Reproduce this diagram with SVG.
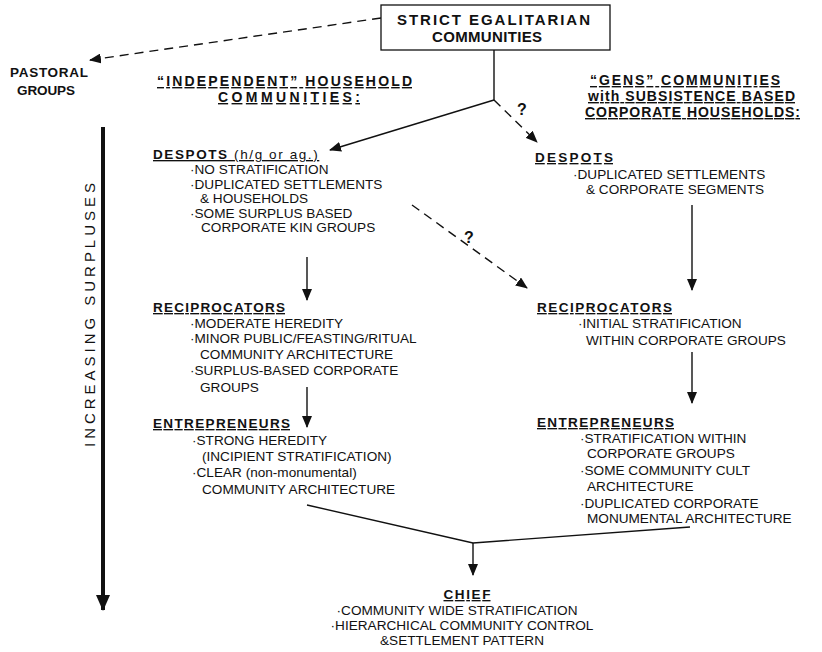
<svg xmlns="http://www.w3.org/2000/svg" width="822" height="652" viewBox="0 0 822 652">
<style>
text{font-family:"Liberation Sans",Arial,sans-serif;fill:#111}
.h{font-weight:bold;font-size:14px;text-decoration:underline}
.s{font-weight:bold;font-size:13.5px;text-decoration:underline}
.b{font-size:13.6px}
.ln{stroke:#111;stroke-width:1.4;fill:none}
.ds{stroke:#111;stroke-width:1.4;fill:none;stroke-dasharray:9,6}
</style>
<defs>
<marker id="ah" markerUnits="userSpaceOnUse" markerWidth="12" markerHeight="10" refX="11" refY="5" orient="auto"><path d="M0,0 L12,5 L0,10 z" fill="#111"/></marker>
<marker id="big" markerUnits="userSpaceOnUse" markerWidth="16" markerHeight="14" refX="15" refY="7" orient="auto"><path d="M0,0 L16,7 L0,14 z" fill="#111"/></marker>
</defs>
<rect width="822" height="652" fill="#fff"/>

<g id="top">
<rect x="381" y="5" width="229" height="45" fill="#fff" stroke="#111" stroke-width="1.3"/>
<text x="397" y="25" font-weight="bold" font-size="15" textLength="193" lengthAdjust="spacing">STRICT EGALITARIAN</text>
<text x="432" y="42" font-weight="bold" font-size="15" textLength="110" lengthAdjust="spacing">COMMUNITIES</text>
</g>

<g id="pastoral">
<text x="10" y="77" font-weight="bold" font-size="13.5" textLength="78" lengthAdjust="spacing">PASTORAL</text>
<text x="17" y="95" font-weight="bold" font-size="13.5" textLength="58" lengthAdjust="spacing">GROUPS</text>
</g>

<g id="head-left">
<text class="h" x="157" y="86" textLength="255" lengthAdjust="spacing">“INDEPENDENT”  HOUSEHOLD</text>
<text class="h" x="218" y="102" textLength="142" lengthAdjust="spacing">COMMUNITIES:</text>
</g>

<g id="head-right">
<text class="h" x="590" y="85" textLength="190" lengthAdjust="spacing">“GENS”  COMMUNITIES</text>
<text class="h" x="588" y="101" textLength="207" lengthAdjust="spacing">with SUBSISTENCE BASED</text>
<text class="h" x="585" y="117" textLength="215" lengthAdjust="spacing">CORPORATE  HOUSEHOLDS:</text>
</g>

<g id="axis">
<text transform="translate(95,315) rotate(-90)" x="-132" y="0" font-size="15" textLength="264" lengthAdjust="spacing">INCREASING SURPLUSES</text>
</g>

<g id="despots-left">
<text class="s" x="153" y="159" letter-spacing="1.6">DESPOTS <tspan font-weight="normal">(h/g or ag.)</tspan></text>
<text class="b" x="190" y="174">·NO STRATIFICATION</text>
<text class="b" x="190" y="188.5">·DUPLICATED SETTLEMENTS</text>
<text class="b" x="200" y="203">&amp; HOUSEHOLDS</text>
<text class="b" x="190" y="217.5">·SOME SURPLUS BASED</text>
<text class="b" x="201" y="232">CORPORATE KIN GROUPS</text>
</g>

<g id="despots-right">
<text class="s" x="535" y="162" textLength="78" lengthAdjust="spacing">DESPOTS</text>
<text class="b" x="573" y="179">·DUPLICATED SETTLEMENTS</text>
<text class="b" x="586" y="194">&amp; CORPORATE SEGMENTS</text>
</g>

<g id="recip-left">
<text class="s" x="153" y="312" textLength="132" lengthAdjust="spacing">RECIPROCATORS</text>
<text class="b" x="190" y="327.5">·MODERATE HEREDITY</text>
<text class="b" x="190" y="342.5">·MINOR PUBLIC/FEASTING/RITUAL</text>
<text class="b" x="200" y="359">COMMUNITY ARCHITECTURE</text>
<text class="b" x="190" y="375">·SURPLUS-BASED CORPORATE</text>
<text class="b" x="200" y="391.5">GROUPS</text>
</g>

<g id="recip-right">
<text class="s" x="537" y="312" textLength="135" lengthAdjust="spacing">RECIPROCATORS</text>
<text class="b" x="578" y="327.5">·INITIAL STRATIFICATION</text>
<text class="b" x="586" y="344.5">WITHIN CORPORATE GROUPS</text>
</g>

<g id="entre-left">
<text class="s" x="153" y="428" textLength="137" lengthAdjust="spacing">ENTREPRENEURS</text>
<text class="b" x="192" y="444.5">·STRONG HEREDITY</text>
<text class="b" x="202" y="461">(INCIPIENT STRATIFICATION)</text>
<text class="b" x="192" y="476.5">·CLEAR (non-monumental)</text>
<text class="b" x="202" y="494">COMMUNITY ARCHITECTURE</text>
</g>

<g id="entre-right">
<text class="s" x="537" y="427" textLength="137" lengthAdjust="spacing">ENTREPRENEURS</text>
<text class="b" x="580" y="442.5">·STRATIFICATION WITHIN</text>
<text class="b" x="587" y="458">CORPORATE GROUPS</text>
<text class="b" x="580" y="474.5">·SOME COMMUNITY CULT</text>
<text class="b" x="587" y="491">ARCHITECTURE</text>
<text class="b" x="580" y="507.5">·DUPLICATED CORPORATE</text>
<text class="b" x="587" y="523">MONUMENTAL ARCHITECTURE</text>
</g>

<g id="chief">
<text class="s" x="467" y="599" text-anchor="middle" textLength="47" lengthAdjust="spacing">CHIEF</text>
<text class="b" x="457" y="614.5" text-anchor="middle">·COMMUNITY WIDE STRATIFICATION</text>
<text class="b" x="462" y="629.5" text-anchor="middle">·HIERARCHICAL COMMUNITY CONTROL</text>
<text class="b" x="462" y="644.5" text-anchor="middle">&amp;SETTLEMENT PATTERN</text>
</g>

<g id="connectors">
<line class="ln" x1="494" y1="50" x2="494" y2="100"/>
<line class="ln" x1="494" y1="100" x2="330" y2="150" marker-end="url(#ah)"/>
<line class="ds" x1="494" y1="100" x2="537" y2="142" marker-end="url(#ah)"/>
<text x="522" y="115" font-weight="bold" font-size="16" text-anchor="middle">?</text>
<line class="ds" x1="381" y1="18" x2="90" y2="60" marker-end="url(#ah)"/>
<line class="ln" x1="307" y1="257" x2="307" y2="300" marker-end="url(#ah)"/>
<line class="ds" x1="412" y1="205" x2="527" y2="288" marker-end="url(#ah)"/>
<text x="469" y="243" font-weight="bold" font-size="16" text-anchor="middle">?</text>
<line class="ln" x1="692" y1="205" x2="692" y2="290" marker-end="url(#ah)"/>
<line class="ln" x1="307" y1="387" x2="307" y2="427" marker-end="url(#ah)"/>
<line class="ln" x1="692" y1="352" x2="692" y2="403" marker-end="url(#ah)"/>
<polyline class="ln" points="307,505 473,543 690,527"/>
<line class="ln" x1="473" y1="543" x2="473" y2="575" marker-end="url(#ah)"/>
<line x1="103" y1="127" x2="103" y2="610" stroke="#111" stroke-width="4" marker-end="url(#big)"/>
</g>
</svg>
